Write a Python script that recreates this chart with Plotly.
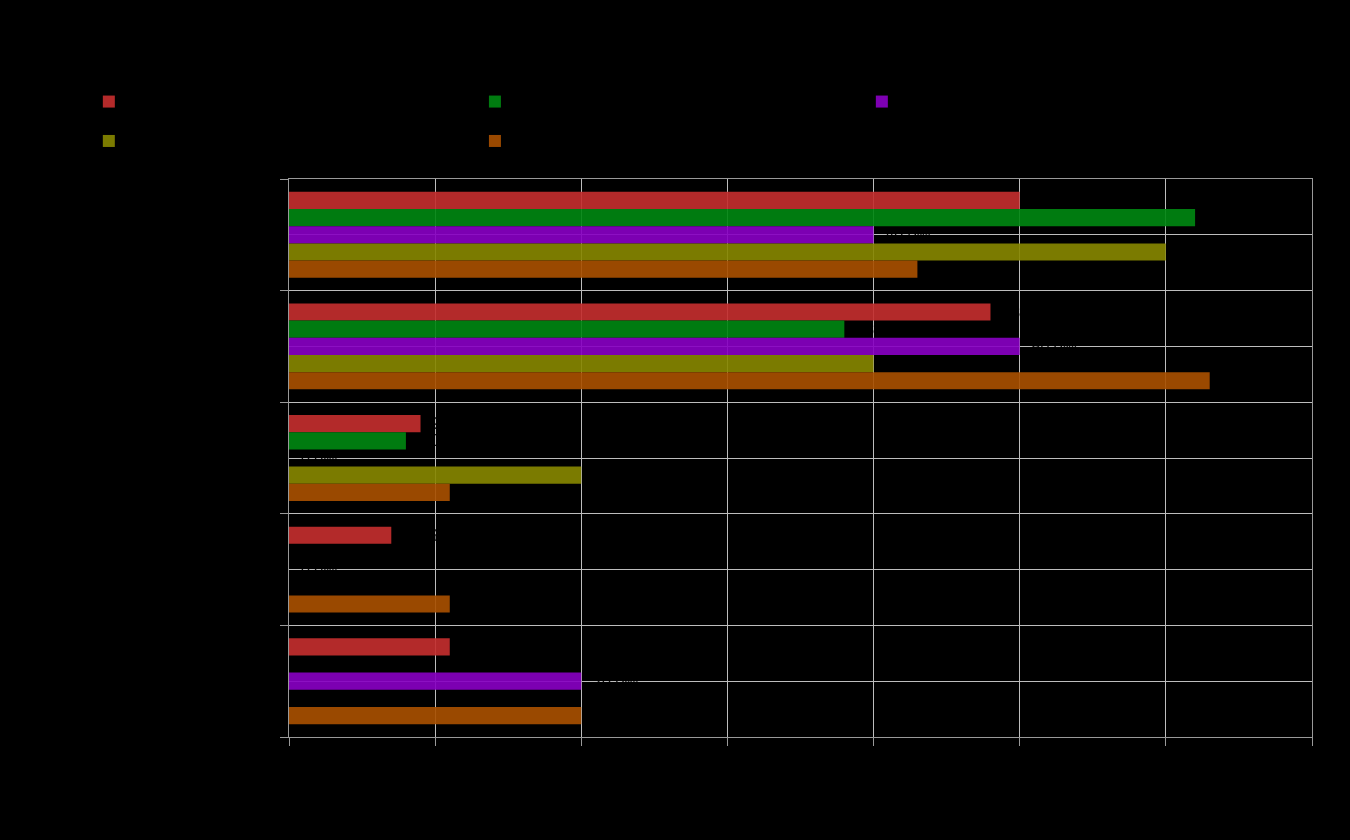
import plotly.graph_objects as go

categories = ["Category A", "Category B", "Category C", "Category D", "Category E"]
series_names = ["Series 1", "Series 2", "Series 3", "Series 4", "Series 5"]
series_values = [
    [50, 48, 9, 7, 11],
    [62, 38, 8, 0, 0],
    [40, 50, 0, 0, 20],
    [60, 40, 20, 0, 0],
    [43, 63, 11, 11, 20],
]
colors = ["#c42e2e", "#008612", "#8800c2", "#868600", "#a85000"]
legend_ids = ["legend", "legend2", "legend3", "legend", "legend2"]
x_ticks = [0, 10, 20, 30, 40, 50, 60, 70]

fig = go.Figure()
ypos = list(range(len(categories)))
for name, vals, col, lg in zip(series_names, series_values, colors, legend_ids):
    fig.add_trace(go.Bar(
        y=ypos, x=vals, name=name, orientation="h", legend=lg,
        marker=dict(color=col, line=dict(width=0)), opacity=0.92,
        text=["\u00a0\u00a0" + f"{v:.1f}%" for v in vals], textposition="outside",
        constraintext="none",
        textfont=dict(color="#000000", size=16, family="Liberation Sans"),
        cliponaxis=False,
    ))

leg_common = dict(
    orientation="v", xref="container", yref="container",
    y=0.9085, xanchor="left", yanchor="top",
    font=dict(size=28, color="#000000", family="Liberation Sans"),
    traceorder="normal", bgcolor="rgba(0,0,0,0)",
)

fig.update_layout(
    width=1350, height=840,
    paper_bgcolor="#000000", plot_bgcolor="#000000",
    margin=dict(l=289, r=38, t=179, b=103, autoexpand=False),
    barmode="group", bargap=0.23, bargroupgap=0,
    title=dict(text="Chart title", font=dict(color="#000000", size=18), x=0.5, y=0.97),
    font=dict(family="Liberation Sans", color="#000000"),
    legend=dict(x=0.0658, **leg_common),
    legend2=dict(x=0.3518, **leg_common),
    legend3=dict(x=0.6384, **leg_common),
    xaxis=dict(
        range=[0, 70], tickvals=x_ticks, ticktext=[f"{v}%" for v in x_ticks],
        showgrid=True, gridcolor="#bdbdbd", gridwidth=1,
        ticks="outside", ticklen=8, tickcolor="#999999",
        showline=True, linecolor="#999999", mirror=True,
        zeroline=False, tickfont=dict(color="#000000", size=14),
    ),
    yaxis=dict(
        range=[4.5, -0.5], tickvals=ypos, ticktext=categories,
        showgrid=True, gridcolor="#bdbdbd", gridwidth=1,
        ticks="", showline=True, linecolor="#999999", mirror=True,
        zeroline=False, tickfont=dict(color="#000000", size=14),
        minor=dict(tickvals=[-0.5, 0.5, 1.5, 2.5, 3.5, 4.5], ticks="outside",
                   ticklen=8, tickcolor="#999999", showgrid=True,
                   gridcolor="#bdbdbd", gridwidth=1),
    ),
)
fig.write_html(
    "out.html",
    config={"displayModeBar": False},
    post_script="document.body.style.margin='0';document.body.style.background='#000000';",
)
